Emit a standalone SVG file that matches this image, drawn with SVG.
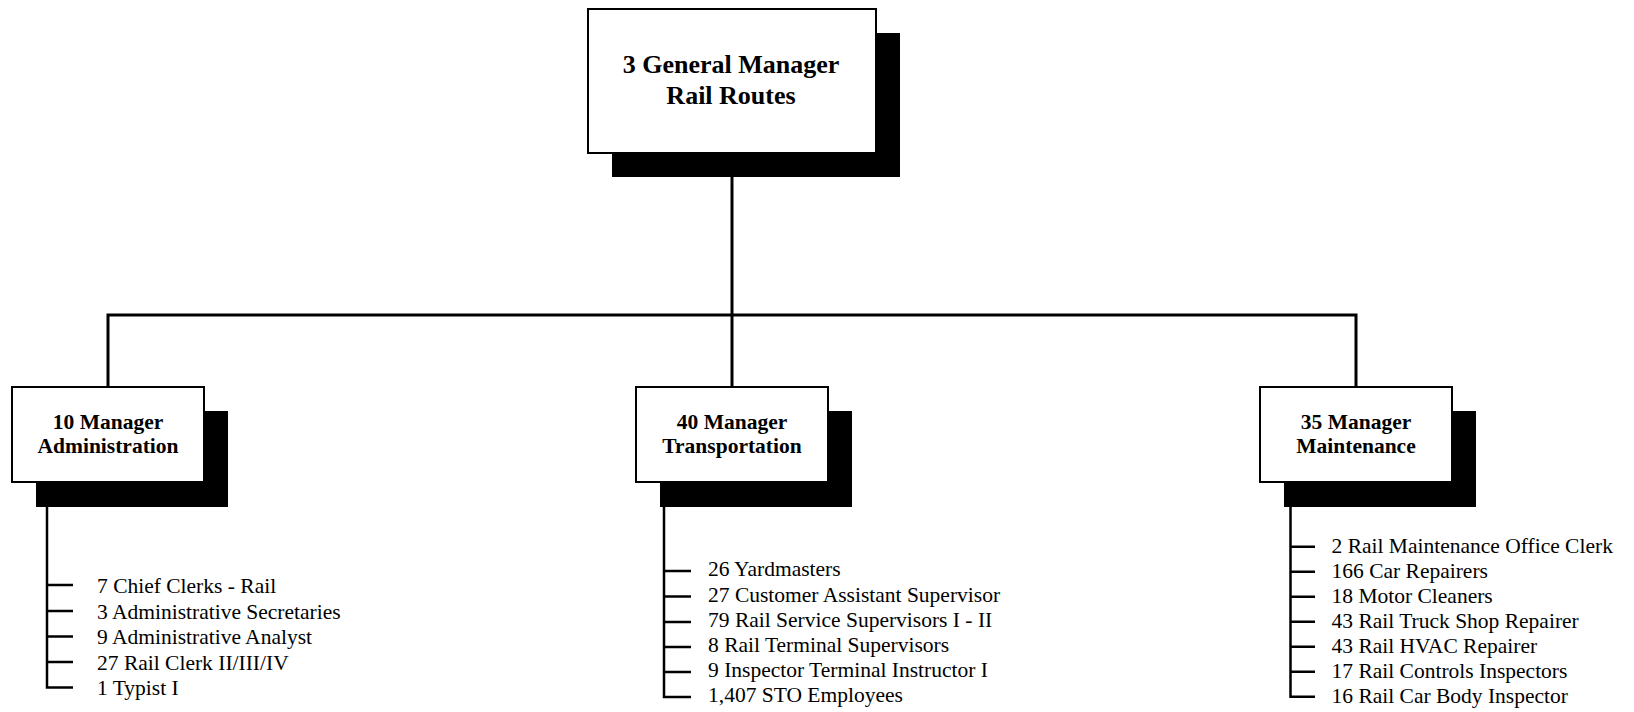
<svg xmlns="http://www.w3.org/2000/svg" width="1634" height="712" viewBox="0 0 1634 712">
  <style>
    .shadow { fill: #000; }
    .box { fill: #fff; stroke: #000; stroke-width: 2; }
    .wire { fill: none; stroke: #000; stroke-width: 3; }
    .tick { fill: none; stroke: #000; stroke-width: 2.5; }
    .head { font-family: "Liberation Serif", "Times New Roman", serif; font-weight: bold; font-size: 21.5px; fill: #000; text-anchor: middle; }
    .top { font-size: 26px; }
    .item { font-family: "Liberation Serif", "Times New Roman", serif; font-size: 21.5px; fill: #000; }
  </style>

  <!-- reporting lines -->
  <g id="connectors">
    <path class="wire" d="M732 177 V387"/>
    <path class="wire" d="M108 387 V315 H1356 V387"/>
  </g>

  <!-- top of the chart -->
  <g id="general-manager">
    <rect class="shadow" x="612" y="33" width="288" height="144"/>
    <rect class="box" x="588" y="9" width="288" height="144"/>
    <text class="head top" x="731" y="73">3 General Manager</text>
    <text class="head top" x="731" y="104">Rail Routes</text>
  </g>

  <!-- administration branch -->
  <g id="administration">
    <rect class="shadow" x="36" y="411" width="192" height="96"/>
    <rect class="box" x="12" y="387" width="192" height="95"/>
    <text class="head" x="108" y="429">10 Manager</text>
    <text class="head" x="108" y="453">Administration</text>
    <path class="tick" d="M47 507 V687.5 H73 M47 585 H73 M47 611 H73 M47 636.5 H73 M47 662 H73"/>
    <text class="item" x="97" y="592.5">7 Chief Clerks - Rail</text>
    <text class="item" x="97" y="618.5">3 Administrative Secretaries</text>
    <text class="item" x="97" y="644">9 Administrative Analyst</text>
    <text class="item" x="97" y="669.5">27 Rail Clerk II/III/IV</text>
    <text class="item" x="97" y="695">1 Typist I</text>
  </g>

  <!-- transportation branch -->
  <g id="transportation">
    <rect class="shadow" x="660" y="411" width="192" height="96"/>
    <rect class="box" x="636" y="387" width="192" height="95"/>
    <text class="head" x="732" y="429">40 Manager</text>
    <text class="head" x="732" y="453">Transportation</text>
    <path class="tick" d="M664 507 V697 H691 M664 571 H691 M664 596.5 H691 M664 622 H691 M664 647 H691 M664 672 H691"/>
    <text class="item" x="708" y="576">26 Yardmasters</text>
    <text class="item" x="708" y="601.5">27 Customer Assistant Supervisor</text>
    <text class="item" x="708" y="627">79 Rail Service Supervisors I - II</text>
    <text class="item" x="708" y="652">8 Rail Terminal Supervisors</text>
    <text class="item" x="708" y="677">9 Inspector Terminal Instructor I</text>
    <text class="item" x="708" y="702">1,407 STO Employees</text>
  </g>

  <!-- maintenance branch -->
  <g id="maintenance">
    <rect class="shadow" x="1284" y="411" width="192" height="96"/>
    <rect class="box" x="1260" y="387" width="192" height="95"/>
    <text class="head" x="1356" y="429">35 Manager</text>
    <text class="head" x="1356" y="453">Maintenance</text>
    <path class="tick" d="M1290.5 507 V696.7 H1315 M1290.5 546.7 H1315 M1290.5 571.7 H1315 M1290.5 596.7 H1315 M1290.5 621.7 H1315 M1290.5 646.7 H1315 M1290.5 671.7 H1315"/>
    <text class="item" x="1331.5" y="553.3">2 Rail Maintenance Office Clerk</text>
    <text class="item" x="1331.5" y="578.3">166 Car Repairers</text>
    <text class="item" x="1331.5" y="603.3">18 Motor Cleaners</text>
    <text class="item" x="1331.5" y="628.3">43 Rail Truck Shop Repairer</text>
    <text class="item" x="1331.5" y="653.3">43 Rail HVAC Repairer</text>
    <text class="item" x="1331.5" y="678.3">17 Rail Controls Inspectors</text>
    <text class="item" x="1331.5" y="703.3">16 Rail Car Body Inspector</text>
  </g>
</svg>
